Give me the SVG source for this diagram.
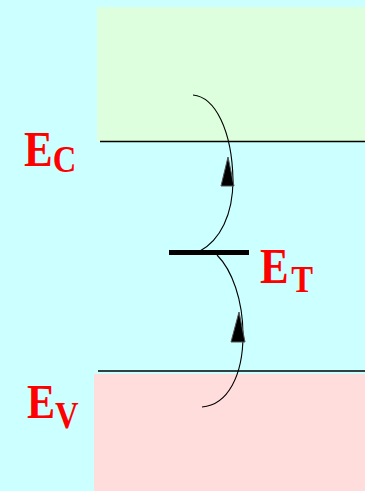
<svg xmlns="http://www.w3.org/2000/svg" width="365" height="491" viewBox="0 0 365 491">
<style>
.lbl{font-family:"Liberation Serif","Times New Roman",serif;font-weight:bold;fill:#ff0000;}
.lvl{stroke:#000;stroke-width:1.3;fill:none;}
.arc{stroke:#000;stroke-width:1.1;fill:none;}
.head{fill:#000;stroke:#555;stroke-width:1;}
</style>
<rect x="0" y="0" width="365" height="491" fill="#ccffff"/>
<g id="conduction-band">
<rect x="97" y="7" width="268" height="134.5" fill="#ddffdd"/>
<line class="lvl" x1="100" y1="141.5" x2="365" y2="141.5"/>
<text class="lbl" font-size="50" transform="translate(24,166) scale(0.86,1)">E<tspan font-size="38" dy="6">C</tspan></text>
</g>
<g id="valence-band">
<rect x="94" y="374" width="271" height="117" fill="#ffdddd"/>
<line class="lvl" x1="98" y1="371" x2="365" y2="371"/>
<text class="lbl" font-size="49" transform="translate(27,418) scale(0.86,1)">E<tspan font-size="38" dy="10">V</tspan></text>
</g>
<g id="trap-level">
<line x1="169" y1="252.5" x2="249" y2="252.5" stroke="#000" stroke-width="5"/>
<text class="lbl" font-size="50" transform="translate(260,283) scale(0.86,1)">E<tspan font-size="38" dx="3" dy="9">T</tspan></text>
</g>
<g id="connectors">
<path class="arc" d="M193,95 C215,97 232,130 233,180 C233,215 220,240 200,251"/>
<polygon class="head" points="228,157 221,186 234,186"/>
<path class="arc" d="M217,255 C232,270 243,300 243,335 C243,375 228,405 202,407"/>
<polygon class="head" points="239,312 231,342 245,342"/>
</g>
</svg>
